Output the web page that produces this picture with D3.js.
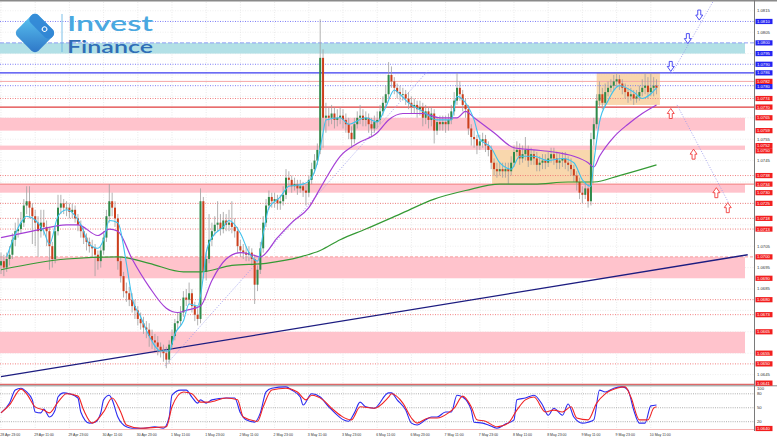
<!DOCTYPE html>
<html>
<head>
<meta charset="utf-8">
<script src="https://cdn.jsdelivr.net/npm/d3@7"></script>
<style>
  html, body { margin: 0; padding: 0; background: #fff; }
  svg { display: block; font-family: "Liberation Sans", Arial, sans-serif; }
</style>
</head>
<body>
<script>
/***** Data (EURUSD H1) *****/
var timeLabels = ["28 Apr 23:00", "29 Apr 11:00", "29 Apr 23:00", "30 Apr 11:00", "30 Apr 23:00",
  "1 May 11:00", "1 May 23:00", "2 May 11:00", "2 May 23:00", "3 May 11:00", "3 May 23:00",
  "6 May 11:00", "6 May 23:00", "7 May 11:00", "7 May 23:00", "8 May 11:00", "8 May 23:00",
  "9 May 11:00", "9 May 23:00", "10 May 11:00"];
var barsPerLabel = 12;

var firstOpen = 1.0696;
var close = [
  1.0698,1.0695,1.0699,1.0701,1.0708,1.0712,1.0713,1.0716,1.0724,1.0726,1.0723,1.0719,
  1.0716,1.0712,1.0716,1.0714,1.0712,1.0705,1.0699,1.0712,1.0723,1.0725,1.0723,1.0723,
  1.0721,1.0722,1.0718,1.0715,1.0712,1.0709,1.0707,1.0705,1.0704,1.0701,1.0698,1.0703,
  1.0709,1.0719,1.0726,1.0723,1.0718,1.0698,1.0691,1.0684,1.0683,1.0680,1.0677,1.0675,
  1.0671,1.0669,1.0667,1.0666,1.0663,1.0661,1.0660,1.0658,1.0656,1.0655,1.0652,1.0659,
  1.0663,1.0669,1.0670,1.0674,1.0681,1.0680,1.0683,1.0677,1.0673,1.0671,1.0726,1.0693,
  1.0699,1.0708,1.0712,1.0715,1.0716,1.0713,1.0717,1.0715,1.0716,1.0714,1.0712,1.0705,
  1.0703,1.0702,1.0701,1.0702,1.0699,1.0687,1.0694,1.0704,1.0716,1.0724,1.0728,1.0726,
  1.0727,1.0725,1.0726,1.0729,1.0737,1.0736,1.0733,1.0734,1.0732,1.0733,1.0731,1.0730,
  1.0736,1.0741,1.0745,1.0750,1.0793,1.0765,1.0766,1.0765,1.0767,1.0764,1.0765,1.0766,
  1.0764,1.0762,1.0758,1.0755,1.0762,1.0765,1.0766,1.0764,1.0765,1.0762,1.0760,1.0763,
  1.0764,1.0768,1.0772,1.0776,1.0785,1.0782,1.0779,1.0777,1.0776,1.0776,1.0774,1.0772,
  1.0770,1.0771,1.0769,1.0770,1.0765,1.0768,1.0764,1.0767,1.0759,1.0763,1.0762,1.0763,
  1.0762,1.0764,1.0768,1.0773,1.0779,1.0776,1.0771,1.0769,1.0760,1.0756,1.0755,1.0752,
  1.0754,1.0755,1.0752,1.0750,1.0744,1.0741,1.0740,1.0741,1.0740,1.0741,1.0740,1.0744,
  1.0749,1.0750,1.0746,1.0748,1.0750,1.0745,1.0748,1.0746,1.0743,1.0744,1.0745,1.0744,
  1.0746,1.0748,1.0746,1.0744,1.0745,1.0746,1.0744,1.0743,1.0741,1.0738,1.0735,1.0730,
  1.0729,1.0732,1.0726,1.0755,1.0762,1.0773,1.0776,1.0772,1.0777,1.0779,1.0780,1.0782,
  1.0783,1.0781,1.0779,1.0777,1.0775,1.0776,1.0774,1.0775,1.0777,1.0779,1.0780,1.0777,
  1.0779,1.0780,1.0779];
var high = [
  1.0702,1.0701,1.0702,1.0705,1.0711,1.0716,1.0718,1.0721,1.0727,1.0733,1.0733,1.0725,
  1.0722,1.0719,1.0722,1.0722,1.0717,1.0714,1.0707,1.0714,1.0729,1.0729,1.0727,1.0726,
  1.0725,1.0725,1.0724,1.0720,1.0717,1.0714,1.0711,1.0709,1.0708,1.0706,1.0703,1.0705,
  1.0712,1.0722,1.0734,1.0730,1.0726,1.0720,1.0700,1.0693,1.0688,1.0686,1.0683,1.0680,
  1.0677,1.0674,1.0672,1.0670,1.0669,1.0666,1.0664,1.0663,1.0660,1.0659,1.0658,1.0661,
  1.0666,1.0671,1.0674,1.0677,1.0684,1.0685,1.0688,1.0685,1.0679,1.0676,1.0732,1.0728,
  1.0702,1.0720,1.0716,1.0719,1.0726,1.0720,1.0721,1.0720,1.0722,1.0726,1.0718,1.0714,
  1.0708,1.0706,1.0705,1.0705,1.0704,1.0701,1.0696,1.0707,1.0719,1.0727,1.0731,1.0730,
  1.0730,1.0729,1.0729,1.0733,1.0741,1.0740,1.0738,1.0737,1.0736,1.0736,1.0735,1.0734,
  1.0738,1.0744,1.0748,1.0753,1.0811,1.0797,1.0772,1.0770,1.0771,1.0770,1.0769,1.0770,
  1.0769,1.0767,1.0765,1.0761,1.0765,1.0768,1.0771,1.0769,1.0768,1.0767,1.0765,1.0766,
  1.0768,1.0771,1.0775,1.0780,1.0791,1.0789,1.0784,1.0781,1.0780,1.0779,1.0778,1.0777,
  1.0775,1.0774,1.0773,1.0773,1.0772,1.0771,1.0770,1.0770,1.0769,1.0765,1.0766,1.0766,
  1.0766,1.0767,1.0771,1.0777,1.0786,1.0782,1.0778,1.0774,1.0771,1.0762,1.0759,1.0757,
  1.0757,1.0758,1.0757,1.0754,1.0752,1.0746,1.0744,1.0744,1.0744,1.0744,1.0744,1.0747,
  1.0752,1.0754,1.0753,1.0752,1.0756,1.0752,1.0751,1.0750,1.0749,1.0747,1.0748,1.0748,
  1.0749,1.0751,1.0751,1.0749,1.0748,1.0749,1.0749,1.0747,1.0746,1.0743,1.0740,1.0737,
  1.0733,1.0735,1.0734,1.0758,1.0765,1.0776,1.0782,1.0779,1.0781,1.0782,1.0783,1.0785,
  1.0786,1.0785,1.0783,1.0781,1.0779,1.0779,1.0778,1.0778,1.0780,1.0783,1.0786,1.0784,
  1.0786,1.0784,1.0783];
var low = [
  1.0692,1.0691,1.0693,1.0696,1.0699,1.0705,1.0709,1.0711,1.0714,1.0720,1.0718,1.0706,
  1.0705,1.0700,1.0709,1.0710,1.0705,1.0694,1.0695,1.0697,1.0710,1.0720,1.0720,1.0719,
  1.0718,1.0718,1.0716,1.0712,1.0709,1.0706,1.0703,1.0702,1.0700,1.0691,1.0694,1.0695,
  1.0701,1.0707,1.0716,1.0719,1.0714,1.0694,1.0688,1.0681,1.0679,1.0677,1.0674,1.0671,
  1.0668,1.0666,1.0664,1.0662,1.0658,1.0657,1.0656,1.0654,1.0653,1.0651,1.0648,1.0650,
  1.0657,1.0661,1.0666,1.0668,1.0672,1.0677,1.0678,1.0674,1.0670,1.0668,1.0669,1.0690,
  1.0689,1.0697,1.0705,1.0710,1.0712,1.0710,1.0711,1.0712,1.0712,1.0711,1.0709,1.0702,
  1.0700,1.0699,1.0698,1.0698,1.0696,1.0678,1.0684,1.0692,1.0702,1.0714,1.0722,1.0723,
  1.0723,1.0722,1.0722,1.0724,1.0727,1.0733,1.0730,1.0731,1.0729,1.0730,1.0728,1.0724,
  1.0728,1.0734,1.0739,1.0743,1.0748,1.0751,1.0758,1.0761,1.0762,1.0760,1.0761,1.0762,
  1.0760,1.0758,1.0755,1.0751,1.0753,1.0760,1.0762,1.0761,1.0761,1.0758,1.0756,1.0758,
  1.0760,1.0762,1.0766,1.0770,1.0774,1.0779,1.0776,1.0774,1.0773,1.0773,1.0771,1.0769,
  1.0767,1.0767,1.0765,1.0766,1.0761,1.0762,1.0760,1.0761,1.0753,1.0757,1.0759,1.0759,
  1.0758,1.0759,1.0762,1.0766,1.0771,1.0773,1.0768,1.0765,1.0757,1.0752,1.0751,1.0748,
  1.0750,1.0751,1.0749,1.0747,1.0741,1.0738,1.0737,1.0738,1.0737,1.0737,1.0734,1.0738,
  1.0742,1.0747,1.0743,1.0744,1.0745,1.0742,1.0743,1.0743,1.0740,1.0740,1.0741,1.0741,
  1.0742,1.0744,1.0743,1.0741,1.0741,1.0742,1.0741,1.0740,1.0738,1.0735,1.0731,1.0727,
  1.0725,1.0727,1.0723,1.0724,1.0752,1.0760,1.0770,1.0769,1.0770,1.0775,1.0777,1.0778,
  1.0779,1.0778,1.0776,1.0774,1.0772,1.0773,1.0771,1.0772,1.0773,1.0775,1.0776,1.0774,
  1.0775,1.0775,1.0776];

// moving averages, read at bar index
var fastMaIdx = [2,7,9,15,17,20,23,28,31,34,36,38,41,44,46,49,52,56,59,61,64,66,69,71,72,74,78,80,84,87,
  90,92,94,98,101,106,109,111,113,114,119,122,128,132,135,138,140,143,148,153,158,160,163,166,168,172,175,
  179,182,187,192,197,201,204,207,208,210,213,217,222,225,230];
var fastMa = [1.0700,1.0716,1.0719,1.0712,1.0706,1.0719,1.0722,1.0715,1.0706,1.0704,1.0708,1.0717,1.0716,
  1.0697,1.0681,1.0672,1.0663,1.0656,1.0656,1.0664,1.0670,1.0678,1.0677,1.0691,1.0702,1.0709,1.0714,1.0717,
  1.0711,1.0702,1.0698,1.0711,1.0723,1.0728,1.0733,1.0734,1.0737,1.0744,1.0758,1.0764,1.0765,1.0762,1.0765,
  1.0763,1.0770,1.0778,1.0776,1.0772,1.0768,1.0764,1.0764,1.0775,1.0772,1.0764,1.0755,1.0751,1.0744,1.0741,
  1.0747,1.0747,1.0745,1.0746,1.0744,1.0736,1.0733,1.0744,1.0763,1.0773,1.0780,1.0777,1.0774,1.0779];
var midMaIdx = [0,11,23,27,34,38,41,46,52,58,62,65,70,74,79,84,88,91,97,102,108,112,119,125,132,136,141,
  148,154,160,163,166,173,180,187,194,201,206,208,210,215,220,225,230];
var midMa = [1.0709,1.0712,1.0715,1.0715,1.0710,1.0713,1.0712,1.0699,1.0686,1.0676,1.0674,1.0675,1.0677,
  1.0689,1.0699,1.0702,1.0701,1.0700,1.0709,1.0716,1.0723,1.0732,1.0747,1.0753,1.0758,1.0764,1.0767,1.0767,
  1.0765,1.0765,1.0768,1.0765,1.0758,1.0751,1.0750,1.0749,1.0747,1.0744,1.0742,1.0747,1.0756,1.0762,1.0767,
  1.0771];
var slowMaIdx = [0,23,41,52,64,70,81,93,105,112,119,128,140,152,163,175,187,199,208,217,230];
var slowMa = [1.0694,1.0699,1.0700,1.0697,1.0693,1.0693,1.0696,1.0697,1.0700,1.0703,1.0708,1.0713,1.0720,
  1.0727,1.0731,1.0734,1.0734,1.0735,1.0735,1.0738,1.0743];

// stochastic %K and %D
var stochKIdx = [0,3,5,7,9,11,12,14,15,17,19,20,22,24,27,28,31,33,35,36,38,39,41,44,46,50,54,57,59,60,63,65,
  67,69,70,72,74,79,82,84,86,89,91,93,95,100,102,105,106,109,112,115,122,124,126,128,131,136,137,139,142,
  144,146,149,151,153,156,158,160,162,165,166,169,171,174,177,180,181,184,187,190,192,194,197,199,201,204,
  206,208,210,212,215,218,220,222,224,226,228,230];
var stochK = [39,60,88,92,84,67,41,39,47,30,45,73,82,80,71,41,17,19,39,67,77,67,30,9,6,6,9,6,30,77,88,88,73,
  60,67,60,67,71,71,39,24,19,39,84,92,95,88,73,56,80,73,52,21,39,62,52,49,82,82,67,45,17,13,24,30,30,41,41,
  77,73,45,19,17,13,6,15,24,67,71,77,56,34,49,34,58,30,17,19,24,88,84,92,95,88,45,17,17,54,56];
var stochDIdx = [0,3,7,9,12,15,17,20,23,27,29,32,36,39,42,44,49,55,58,60,64,67,70,73,79,83,85,90,92,95,100,
  104,107,109,113,116,123,126,131,136,137,141,144,146,150,153,157,159,162,165,167,170,174,178,181,184,187,
  191,194,197,200,202,206,209,212,216,219,221,224,227,229,230];
var stochD = [39,56,90,80,52,45,39,62,80,75,45,17,41,71,41,13,6,8,9,52,84,80,62,62,71,67,30,21,52,88,92,84,
  67,77,67,49,24,52,49,73,80,60,28,17,28,28,39,49,75,52,24,21,9,17,45,67,73,41,45,41,52,28,24,60,80,92,95,
  73,24,24,49,52];
var stochLevels = [20, 50, 80];
var stochLabels = [100, 80, 50, 20];

// price axis and levels
var priceTicks = [1.0645,1.0655,1.0665,1.0675,1.0685,1.0695,1.0705,1.0715,1.0725,1.0735,1.0745,1.0755,
  1.0765,1.0775,1.0785,1.0795,1.0805,1.0815];
var resistanceBand = [1.0800, 1.0795];
var supportBands = [[1.0765, 1.0759], [1.0752, 1.0750], [1.0734, 1.0730], [1.0700, 1.0690], [1.0665, 1.0655]];
var blueDotLevels = [1.0810, 1.0790, 1.0780];
var blueSolidLevel = 1.0786;
var redDotLevels = [1.0774, 1.0738, 1.0725, 1.0718, 1.0713, 1.0680, 1.0673, 1.0650];
var redSolidLevel = 1.0770;
var paleRedLevel = 1.0782;
var blueMarks = [1.0810, 1.0800, 1.0795, 1.0790, 1.0786, 1.0780];
var redMarks = [1.0782, 1.0774, 1.0770, 1.0765, 1.0759, 1.0752, 1.0750, 1.0738, 1.0734, 1.0730, 1.0725,
  1.0718, 1.0713, 1.0700, 1.0690, 1.0680, 1.0673, 1.0665, 1.0655, 1.0650, 1.0641];
var bottomMark = 1.0640;

// drawings: [bar index, price]
var trendLine = [[0, 1.0644], [262, 1.0701]];
var channelLine = [[57.5, 1.0649], [149.8, 1.0787]];
var upPath = [[235.5, 1.0786], [251, 1.0822]];
var downPath = [[237.2, 1.0771], [255.4, 1.0725]];
var rangeBoxes = [[172.3, 208, 1.0750, 1.0734], [209, 231.2, 1.0786, 1.0771]];
var sellArrowIdx = [235, 241, 245];
var sellArrowPrice = [1.0789, 1.0802, 1.0813];
var buyArrowIdx = [235, 243, 251, 255];
var buyArrowPrice = [1.0767, 1.0748, 1.0730, 1.0723];

(function (d3) {
  "use strict";

  /***** Configuration *****/
  var width = 777, height = 437;
  var plotRight = 754;
  var mainTop = 2, mainBottom = 384;
  var markH = 5.2;
  var fmt = d3.format(".4f");

  /***** Scales *****/
  var xScale = d3.scaleLinear().domain([0, 230]).range([1, 656.5]);
  var yScale = d3.scaleLinear().domain([1.06406, 1.08191]).range([mainBottom, mainTop]);
  var sScale = d3.scaleLinear().domain([0, 100]).range([431, 384.5]);

  var svg = d3.select("body").append("svg")
      .attr("width", width)
      .attr("height", height);

  var defs = svg.append("defs");
  defs.append("clipPath").attr("id", "clipMain").append("rect")
      .attr("x", 0).attr("y", mainTop).attr("width", plotRight).attr("height", mainBottom - mainTop);
  defs.append("clipPath").attr("id", "clipStoch").append("rect")
      .attr("x", 0).attr("y", 386).attr("width", plotRight).attr("height", 44);
  var grad = defs.append("linearGradient").attr("id", "logoGrad")
      .attr("x1", 0).attr("y1", 0).attr("x2", 1).attr("y2", 1);
  grad.append("stop").attr("offset", 0).attr("stop-color", "#5fcaf4");
  grad.append("stop").attr("offset", 1).attr("stop-color", "#2c74c6");

  // frame
  svg.append("line").attr("x1", 0).attr("x2", width).attr("y1", 0.8).attr("y2", 0.8)
      .attr("stroke", "#8a8a8a").attr("stroke-width", 1.4);

  /***** Grid *****/
  var grid = svg.append("g");
  grid.selectAll("line.v").data(timeLabels).enter().append("line")
      .attr("x1", function (d, i) { return xScale(i * barsPerLabel); })
      .attr("x2", function (d, i) { return xScale(i * barsPerLabel); })
      .attr("y1", mainTop).attr("y2", 430)
      .attr("stroke", "#dcdcdc").attr("stroke-width", 0.6).attr("stroke-dasharray", "1,1.5");
  grid.selectAll("line.h").data(priceTicks).enter().append("line")
      .attr("x1", 0).attr("x2", plotRight)
      .attr("y1", function (d) { return yScale(d); })
      .attr("y2", function (d) { return yScale(d); })
      .attr("stroke", "#e2e2e2").attr("stroke-width", 0.6).attr("stroke-dasharray", "1,1.5");

  /***** Zones *****/
  var zones = svg.append("g");
  zones.append("rect")
      .attr("x", 0).attr("width", 745)
      .attr("y", yScale(resistanceBand[0]))
      .attr("height", yScale(resistanceBand[1]) - yScale(resistanceBand[0]))
      .attr("fill", "#b2e0e6");
  zones.selectAll("rect.pink").data(supportBands).enter().append("rect")
      .attr("x", 0).attr("width", 745)
      .attr("y", function (d) { return yScale(d[0]); })
      .attr("height", function (d) { return yScale(d[1]) - yScale(d[0]); })
      .attr("fill", "#ffc3cc");
  zones.selectAll("rect.box").data(rangeBoxes).enter().append("rect")
      .attr("x", function (d) { return xScale(d[0]); })
      .attr("width", function (d) { return xScale(d[1]) - xScale(d[0]); })
      .attr("y", function (d) { return yScale(d[2]); })
      .attr("height", function (d) { return yScale(d[3]) - yScale(d[2]); })
      .attr("fill", "#f9d7ad");

  /***** Levels *****/
  var levels = svg.append("g");
  function hLine(price, color, dash, w) {
    levels.append("line")
        .attr("x1", 0).attr("x2", plotRight)
        .attr("y1", yScale(price)).attr("y2", yScale(price))
        .attr("stroke", color).attr("stroke-width", w || 1)
        .attr("stroke-dasharray", dash || null);
  }
  blueDotLevels.forEach(function (p) { hLine(p, "#6f6ff5", "1,1.5", 0.9); });
  hLine(resistanceBand[0], "#8f9ef5", "4,2", 1);
  hLine(blueSolidLevel, "#3b3bf0", null, 1.1);
  hLine(paleRedLevel, "#f4a6a6", null, 1);
  redDotLevels.forEach(function (p) { hLine(p, "#f07070", "1,1.5", 0.9); });
  hLine(redSolidLevel, "#e03c3c", null, 1.1);
  hLine(supportBands[2][0], "#f27b7b", null, 1);
  hLine(supportBands[3][0], "#f79c9c", "3,2", 1);

  /***** Drawings *****/
  var drawings = svg.append("g").attr("clip-path", "url(#clipMain)");
  var seg = d3.line()
      .x(function (d) { return xScale(d[0]); })
      .y(function (d) { return yScale(d[1]); });
  drawings.append("path").attr("d", seg(trendLine))
      .attr("stroke", "#1c1c80").attr("stroke-width", 1.3).attr("fill", "none");
  [channelLine, upPath, downPath].forEach(function (l) {
    drawings.append("path").attr("d", seg(l))
        .attr("stroke", "#9c9cec").attr("stroke-width", 0.9)
        .attr("stroke-dasharray", "1,1.6").attr("fill", "none");
  });

  /***** Candles *****/
  var bars = d3.range(close.length).map(function (i) {
    return { i: i, o: i ? close[i - 1] : firstOpen, h: high[i], l: low[i], c: close[i] };
  });
  var candleG = svg.append("g").attr("clip-path", "url(#clipMain)");
  candleG.selectAll("line.wick").data(bars).enter().append("line")
      .attr("x1", function (d) { return xScale(d.i); })
      .attr("x2", function (d) { return xScale(d.i); })
      .attr("y1", function (d) { return yScale(d.h); })
      .attr("y2", function (d) { return yScale(d.l); })
      .attr("stroke", "#9e9e9e").attr("stroke-width", 0.8);
  candleG.selectAll("rect.body").data(bars).enter().append("rect")
      .attr("x", function (d) { return xScale(d.i) - 1; })
      .attr("width", 2)
      .attr("y", function (d) { return yScale(Math.max(d.o, d.c)); })
      .attr("height", function (d) { return Math.max(0.8, Math.abs(yScale(d.o) - yScale(d.c))); })
      .attr("fill", function (d) { return d.c >= d.o ? "#2f8a4a" : "#cc3f1c"; });

  /***** Moving averages *****/
  var maLine = d3.line()
      .x(function (d) { return xScale(d[0]); })
      .y(function (d) { return yScale(d[1]); })
      .curve(d3.curveMonotoneX);
  var maG = svg.append("g").attr("clip-path", "url(#clipMain)").attr("fill", "none");
  maG.append("path").attr("d", maLine(d3.zip(slowMaIdx, slowMa)))
      .attr("stroke", "#349a34").attr("stroke-width", 1.2);
  maG.append("path").attr("d", maLine(d3.zip(midMaIdx, midMa)))
      .attr("stroke", "#a43fd6").attr("stroke-width", 1.2);
  maG.append("path").attr("d", maLine(d3.zip(fastMaIdx, fastMa)))
      .attr("stroke", "#3fc2ee").attr("stroke-width", 1.1);

  /***** Arrows *****/
  var downArrow = "M-1.5,-5H1.5V0H3.5L0,5L-3.5,0H-1.5Z";
  var upArrow = "M-1.5,5H1.5V0H3.5L0,-5L-3.5,0H-1.5Z";
  svg.append("g").selectAll("path").data(d3.zip(sellArrowIdx, sellArrowPrice)).enter().append("path")
      .attr("d", downArrow)
      .attr("transform", function (d) { return "translate(" + xScale(d[0]) + "," + yScale(d[1]) + ")"; })
      .attr("fill", "#fff").attr("stroke", "#3c3cf2").attr("stroke-width", 0.9);
  svg.append("g").selectAll("path").data(d3.zip(buyArrowIdx, buyArrowPrice)).enter().append("path")
      .attr("d", upArrow)
      .attr("transform", function (d) { return "translate(" + xScale(d[0]) + "," + yScale(d[1]) + ")"; })
      .attr("fill", "#fff").attr("stroke", "#f23c3c").attr("stroke-width", 0.9);

  /***** Stochastic panel *****/
  svg.append("line").attr("x1", 0).attr("x2", plotRight).attr("y1", 384.3).attr("y2", 384.3)
      .attr("stroke", "#d84444").attr("stroke-width", 1);
  svg.append("line").attr("x1", 0).attr("x2", width).attr("y1", 385.8).attr("y2", 385.8)
      .attr("stroke", "#8a8a8a").attr("stroke-width", 1);
  svg.append("line").attr("x1", 0).attr("x2", plotRight).attr("y1", 429.5).attr("y2", 429.5)
      .attr("stroke", "#f6b5b5").attr("stroke-width", 1);
  var stochG = svg.append("g");
  stochG.selectAll("line").data(stochLevels).enter().append("line")
      .attr("x1", 0).attr("x2", plotRight)
      .attr("y1", function (d) { return sScale(d); })
      .attr("y2", function (d) { return sScale(d); })
      .attr("stroke", "#8c8c8c").attr("stroke-width", 0.7).attr("stroke-dasharray", "1,1.2");
  var sLine = d3.line()
      .x(function (d) { return xScale(d[0]); })
      .y(function (d) { return sScale(d[1]); })
      .curve(d3.curveMonotoneX);
  var sPaths = svg.append("g").attr("clip-path", "url(#clipStoch)").attr("fill", "none");
  sPaths.append("path").attr("d", sLine(d3.zip(stochKIdx, stochK)))
      .attr("stroke", "#2c2cf0").attr("stroke-width", 1.1);
  sPaths.append("path").attr("d", sLine(d3.zip(stochDIdx, stochD)))
      .attr("stroke", "#f02424").attr("stroke-width", 1.1);

  /***** Time axis *****/
  svg.append("g").selectAll("text").data(timeLabels).enter().append("text")
      .attr("x", function (d, i) { return Math.max(0.3, xScale(i * barsPerLabel) - 1); })
      .attr("y", 435.5)
      .attr("font-size", 3.5).attr("fill", "#333")
      .text(function (d) { return d; });

  /***** Price axis *****/
  // level tags, stacked so that neighbours do not cover each other
  var tags = redMarks.map(function (p) { return { p: p, y: yScale(p), color: "#f21e1e" }; })
      .concat(blueMarks.map(function (p) { return { p: p, y: yScale(p), color: "#2323f2" }; }))
      .sort(function (a, b) { return a.y - b.y; });
  tags.forEach(function (t, k) {
    if (k && t.y - tags[k - 1].y < markH) t.y = tags[k - 1].y + markH;
  });
  tags.push({ p: bottomMark, y: 428.5, color: "#f21e1e" });

  var axisG = svg.append("g");
  axisG.append("line").attr("x1", plotRight + 0.5).attr("x2", plotRight + 0.5)
      .attr("y1", 0).attr("y2", 431).attr("stroke", "#7a7a7a").attr("stroke-width", 1);
  var freeTicks = priceTicks.filter(function (p) {
    return tags.every(function (t) { return Math.abs(t.y - yScale(p)) > 4.8; });
  });
  axisG.selectAll("text.tick").data(freeTicks).enter().append("text")
      .attr("x", 757).attr("y", function (d) { return yScale(d) + 1.4; })
      .attr("font-size", 4.2).attr("fill", "#333")
      .text(fmt);
  axisG.selectAll("text.s").data(stochLabels).enter().append("text")
      .attr("x", 757).attr("y", function (d) { return (d === 100 ? sScale(91) : sScale(d)) + 1.4; })
      .attr("font-size", 4.2).attr("fill", "#333")
      .text(function (d) { return d; });

  var tagG = axisG.selectAll("g.tag").data(tags).enter().append("g")
      .attr("transform", function (t) { return "translate(755.5," + t.y + ")"; });
  tagG.append("rect").attr("x", 0).attr("y", -markH / 2).attr("width", 17).attr("height", markH)
      .attr("fill", function (t) { return t.color; });
  tagG.append("text").attr("x", 1.5).attr("y", 1.5).attr("font-size", 4.2).attr("fill", "#fff")
      .text(function (t) { return fmt(t.p); });

  /***** Logo *****/
  var logo = svg.append("g");
  var icon = logo.append("g").attr("transform", "translate(35,33) rotate(45)");
  icon.append("rect").attr("x", -15).attr("y", -15).attr("width", 30).attr("height", 30).attr("rx", 5)
      .attr("fill", "url(#logoGrad)");
  icon.append("rect").attr("x", -15).attr("y", -15).attr("width", 30).attr("height", 11).attr("rx", 5)
      .attr("fill", "#2f84d4").attr("opacity", 0.85);
  icon.append("circle").attr("cx", 4).attr("cy", -9.5).attr("r", 2.3)
      .attr("fill", "none").attr("stroke", "#fff").attr("stroke-width", 1);
  logo.append("line").attr("x1", 62).attr("x2", 62).attr("y1", 14).attr("y2", 52)
      .attr("stroke", "#5aaee2").attr("stroke-width", 0.8);
  logo.append("text").attr("x", 67).attr("y", 30.5)
      .attr("font-family", "Lato, 'Liberation Sans', sans-serif")
      .attr("font-size", 21.5).attr("font-weight", 600).attr("fill", "#4aa8e0")
      .attr("textLength", 86).attr("lengthAdjust", "spacingAndGlyphs")
      .text("Invest");
  logo.append("text").attr("x", 67).attr("y", 52.5)
      .attr("font-family", "Lato, 'Liberation Sans', sans-serif")
      .attr("font-size", 17.5).attr("font-weight", 600).attr("fill", "#2f6db6")
      .attr("textLength", 86).attr("lengthAdjust", "spacingAndGlyphs")
      .text("Finance");

})(d3);
</script>
</body>
</html>
